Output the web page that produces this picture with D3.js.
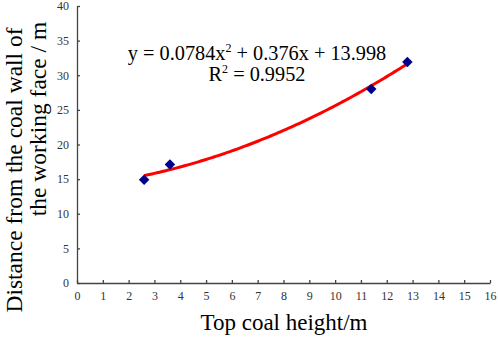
<!DOCTYPE html>
<html>
<head>
<meta charset="utf-8">
<script src="https://cdn.jsdelivr.net/npm/d3@7"></script>
<style>
  body { margin: 0; background: #fff; }
  text { font-family: "Liberation Serif", "Times New Roman", serif; }
</style>
</head>
<body>
<div id="chart"></div>
<script>
// measured points
const heights = [2.6, 3.6, 11.4, 12.8];
const distances = [14.9, 17.1, 28.0, 31.9];
// fitted curve coefficients (from the trendline label)
const coefA = 0.0784, coefB = 0.376, coefC = 13.998;
const fitRange = [2.6, 12.8];
const xTicks = d3.range(0, 17, 1);
const yTicks = d3.range(0, 45, 5);

const W = 498, H = 337;
const margin = { top: 6, right: 8, bottom: 54, left: 77 };
const width = W - margin.left - margin.right;
const height = H - margin.top - margin.bottom;

const svg = d3.select('#chart').append('svg')
  .attr('width', W).attr('height', H);
const g = svg.append('g').attr('transform', `translate(${margin.left},${margin.top})`);

const x = d3.scaleLinear().domain([0, 16]).range([0, width]);
const y = d3.scaleLinear().domain([0, 40]).range([height, 0]);

// axes
const xAxis = g.append('g').attr('transform', `translate(0,${height})`)
  .call(d3.axisBottom(x).tickValues(xTicks).tickSizeInner(-3).tickSizeOuter(0).tickPadding(8));
const yAxis = g.append('g')
  .call(d3.axisLeft(y).tickValues(yTicks).tickSizeInner(-3).tickSizeOuter(0).tickPadding(8));
[xAxis, yAxis].forEach(a => {
  a.select('.domain').attr('stroke', '#444').attr('stroke-width', 1.3);
  a.selectAll('.tick line').attr('stroke', '#444').attr('stroke-width', 1.3);
  a.selectAll('.tick text').attr('fill', '#333').attr('font-size', '12px');
});

// trendline
const curve = d3.range(fitRange[0], fitRange[1] + 0.001, 0.1).map(v => [v, coefA * v * v + coefB * v + coefC]);
g.append('path').datum(curve)
  .attr('fill', 'none').attr('stroke', '#ff0000').attr('stroke-width', 3)
  .attr('d', d3.line().x(d => x(d[0])).y(d => y(d[1])));

// points
const pts = heights.map((h, i) => ({ h, d: distances[i] }));
g.selectAll('.pt').data(pts).join('path')
  .attr('class', 'pt')
  .attr('transform', d => `translate(${x(d.h)},${y(d.d)})`)
  .attr('d', d3.symbol(d3.symbolDiamond2, 70)())
  .attr('fill', '#00008b');

// equation
const eq = svg.append('text').attr('x', 257).attr('y', 60)
  .attr('text-anchor', 'middle').attr('font-size', '20.3px').attr('fill', '#000');
eq.append('tspan').text('y = 0.0784x');
eq.append('tspan').attr('dy', -8).attr('font-size', '12px').text('2');
eq.append('tspan').attr('dy', 8).text(' + 0.376x + 13.998');
const r2 = svg.append('text').attr('x', 257).attr('y', 81)
  .attr('text-anchor', 'middle').attr('font-size', '20.3px').attr('fill', '#000');
r2.append('tspan').text('R');
r2.append('tspan').attr('dy', -8).attr('font-size', '12px').text('2');
r2.append('tspan').attr('dy', 8).text(' = 0.9952');

// axis titles
svg.append('text').attr('x', 284).attr('y', 330)
  .attr('text-anchor', 'middle').attr('font-size', '23px').text('Top coal height/m');
svg.append('text').attr('transform', 'translate(22,170) rotate(-90)')
  .attr('text-anchor', 'middle').attr('font-size', '23.5px').text('Distance from the coal wall of');
svg.append('text').attr('transform', 'translate(46,119) rotate(-90)')
  .attr('text-anchor', 'middle').attr('font-size', '23.5px').text('the working face / m');
</script>
</body>
</html>
